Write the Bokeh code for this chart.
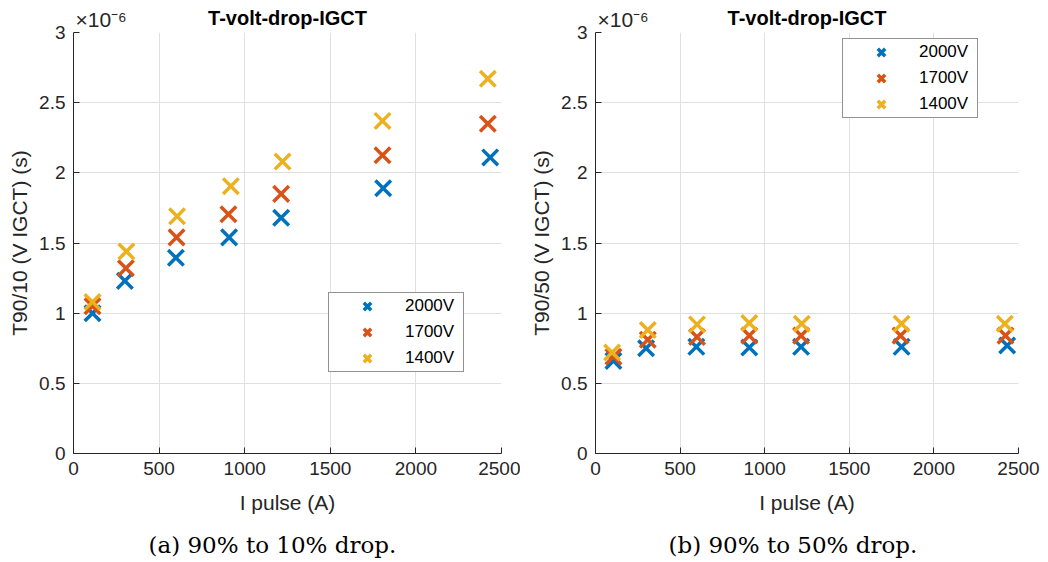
from bokeh.plotting import figure
from bokeh.layouts import row
from bokeh.models import (ColumnDataSource, Range1d, FixedTicker, CustomJSTickFormatter,
                          Legend, LegendItem, Title)
from bokeh.embed import file_html
from bokeh.resources import INLINE

# ---------------- data ----------------
SCALE = 1e-6  # y values below are in units of 1e-6 s
series_labels = ["2000V", "1700V", "1400V"]
colors = ["#0072BD", "#D95319", "#EDB120"]
x_ticks = [0, 500, 1000, 1500, 2000, 2500]
y_ticks = [0, 0.5, 1, 1.5, 2, 2.5, 3]

# (a) 90% to 10% drop
a_I_2000 = [111, 300, 598, 909, 1213, 1809, 2434]
a_T_2000 = [1.00, 1.23, 1.395, 1.54, 1.68, 1.89, 2.11]
a_I_1700 = [111, 306, 602, 905, 1213, 1805, 2420]
a_T_1700 = [1.05, 1.32, 1.54, 1.705, 1.85, 2.125, 2.35]
a_I_1400 = [111, 309, 605, 919, 1221, 1805, 2420]
a_T_1400 = [1.08, 1.44, 1.69, 1.905, 2.08, 2.37, 2.67]

# (b) 90% to 50% drop
b_I_2000 = [106, 299, 596, 909, 1215, 1809, 2433]
b_T_2000 = [0.66, 0.75, 0.76, 0.755, 0.76, 0.76, 0.77]
b_I_1700 = [106, 309, 600, 909, 1215, 1803, 2423]
b_T_1700 = [0.69, 0.81, 0.83, 0.84, 0.84, 0.84, 0.84]
b_I_1400 = [98, 309, 600, 909, 1219, 1809, 2419]
b_T_1400 = [0.72, 0.88, 0.92, 0.93, 0.925, 0.925, 0.925]

title_text = "T-volt-drop-IGCT"
exponent_text = "\u00d710\u207b\u2076"
x_label = "I pulse (A)"
y_label_a = "T90/10 (V IGCT) (s)"
y_label_b = "T90/50 (V IGCT) (s)"
caption_a = "(a) 90% to 10% drop."
caption_b = "(b) 90% to 50% drop."

SANS = "Liberation Sans"
DARK = "#262626"


def make_panel(xs, ys, ylabel, caption, frame_w, border_left, border_right,
               legend_xy, caption_offset):
    p = figure(output_backend="svg", toolbar_location=None,
               frame_width=frame_w, frame_height=421,
               min_border_left=border_left, min_border_right=border_right,
               min_border_top=32, min_border_bottom=109,
               x_range=Range1d(0, 2500), y_range=Range1d(0, 3 * SCALE))
    p.outline_line_color = None
    p.background_fill_color = "white"
    p.border_fill_color = "white"

    # exponent marker (x10^-6), nearest to the frame
    expo = Title(text=exponent_text, align="left", offset=2, text_font=SANS,
                 text_font_size="21px", text_font_style="normal",
                 text_color=DARK, standoff=4)
    p.add_layout(expo, "above")

    # main title (outermost, pulled down to share the band with the exponent)
    p.title.text = title_text
    p.title.align = "center"
    p.title.text_font = SANS
    p.title.text_font_size = "20px"
    p.title.text_font_style = "bold"
    p.title.text_color = "black"
    p.title.standoff = -50

    # axes
    p.xaxis.ticker = FixedTicker(ticks=x_ticks)
    p.yaxis.ticker = FixedTicker(ticks=[v * SCALE for v in y_ticks])
    p.yaxis.formatter = CustomJSTickFormatter(code="return String(Math.round(tick*1e7)/10);")
    for ax in (p.xaxis[0], p.yaxis[0]):
        ax.axis_line_color = DARK
        ax.major_tick_line_color = DARK
        ax.major_tick_in = 6
        ax.major_tick_out = 0
        ax.minor_tick_line_color = None
        ax.major_label_text_font = SANS
        ax.major_label_text_font_size = "19px"
        ax.major_label_text_color = DARK
        ax.major_label_standoff = 8
        ax.axis_label_text_font = SANS
        ax.axis_label_text_font_size = "21px"
        ax.axis_label_text_font_style = "normal"
        ax.axis_label_text_color = DARK
        ax.axis_label_standoff = 5
    p.xaxis.axis_label = x_label
    p.yaxis.axis_label = ylabel
    p.xaxis.axis_label_standoff = 13

    p.grid.grid_line_color = "#e0e0e0"
    p.grid.grid_line_width = 1

    # data
    items = []
    for (xv, yv), lab, col in zip(zip(xs, ys), series_labels, colors):
        src = ColumnDataSource(data=dict(x=xv, y=[v * SCALE for v in yv]))
        r = p.scatter("x", "y", source=src, marker="x", size=22,
                      line_color=col, line_width=3.5)
        items.append(LegendItem(label=lab, renderers=[r]))

    legend = Legend(items=items, location=legend_xy, margin=0, padding=0,
                    glyph_width=76, glyph_height=26, spacing=0,
                    label_standoff=0, label_width=58, label_height=20,
                    label_text_font=SANS, label_text_font_size="17px",
                    label_text_color="black",
                    border_line_color=DARK, border_line_width=1,
                    background_fill_color="white", background_fill_alpha=1)
    p.add_layout(legend, "center")

    # caption below
    cap = Title(text=caption, align="left", offset=caption_offset,
                text_font="DejaVu Serif",
                text_font_size="23px", text_font_style="normal",
                text_color="black", standoff=26)
    p.add_layout(cap, "below")
    return p


pa = make_panel([a_I_2000, a_I_1700, a_I_1400], [a_T_2000, a_T_1700, a_T_1400],
                y_label_a, caption_a, 428, 73, 19, (255, 81), 75)
pb = make_panel([b_I_2000, b_I_1700, b_I_1400], [b_T_2000, b_T_1700, b_T_1400],
                y_label_b, caption_b, 423, 75, 30, (247, 335), 73)

layout = row(pa, pb)
open("out.html", "w").write(file_html(layout, INLINE))
